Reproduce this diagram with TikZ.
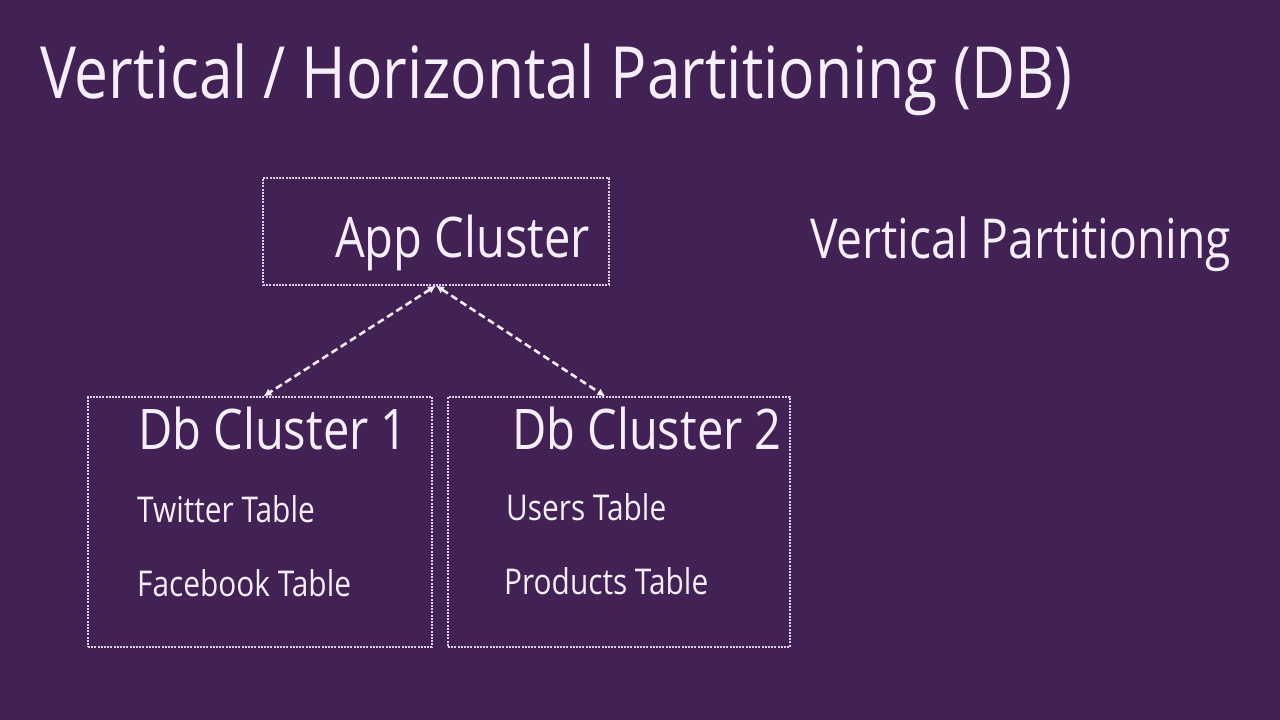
\documentclass[tikz,border=0pt]{standalone}
\usepackage{fontspec}
\setmainfont{Open Sans}[FakeStretch=0.84]
\usepackage{xcolor}
\usepackage{tikz}
\usetikzlibrary{arrows.meta, positioning, calc}
\definecolor{slidepurple}{RGB}{66,34,84}
\definecolor{slidewhite}{RGB}{246,238,250}

\begin{document}
\begin{tikzpicture}[x=1pt, y=-1pt,
    cluster/.style={rectangle, draw=slidewhite!85!slidepurple, line width=1.2pt,
                    dash pattern=on 2pt off 1.2pt, inner sep=0pt},
    headline/.style={text=slidewhite, anchor=base west, inner sep=0pt, font=\fontsize{72}{80}\selectfont},
    bigtext/.style={text=slidewhite, anchor=base west, inner sep=0pt, font=\fontsize{56}{62}\selectfont},
    tabletext/.style={text=slidewhite, anchor=base west, inner sep=0pt, font=\fontsize{35.5}{40}\selectfont},
    link/.style={{Latex[length=8pt,width=8pt]}-{Latex[length=8pt,width=8pt]}, draw=slidewhite,
                 line width=2.6pt, dash pattern=on 7pt off 4pt}
]
    \fill[slidepurple] (0,0) rectangle (1280,720);
    \useasboundingbox (0,0) rectangle (1280,720);

    \node[headline] (title) at (40,98) {Vertical / Horizontal Partitioning (DB)};

    \node[cluster, minimum width=346pt, minimum height=107pt] (app) at (436,231.5) {};
    \node[bigtext] (applabel) at (335,257) {App Cluster};

    \node[bigtext, font=\fontsize{55}{60}\selectfont] (vertical) at (810,258) {Vertical Partitioning};

    \node[cluster, minimum width=344pt, minimum height=250pt] (db1) at (260,522) {};
    \node[cluster, minimum width=342pt, minimum height=250pt] (db2) at (619,522) {};

    \node[bigtext] (db1label) at (138,449) {Db Cluster 1};
    \node[bigtext] (db2label) at (512,449) {Db Cluster 2};

    \node[tabletext] (twitter) at (137,522) {Twitter Table};
    \node[tabletext] (facebook) at (137,596) {Facebook Table};
    \node[tabletext] (users) at (506,520) {Users Table};
    \node[tabletext] (products) at (504,594) {Products Table};

    \draw[link] (app.south) -- ($(db1.north west)!0.51!(db1.north east)$);
    \draw[link] (app.south) -- ($(db2.north west)!0.46!(db2.north east)$);
\end{tikzpicture}
\end{document}
